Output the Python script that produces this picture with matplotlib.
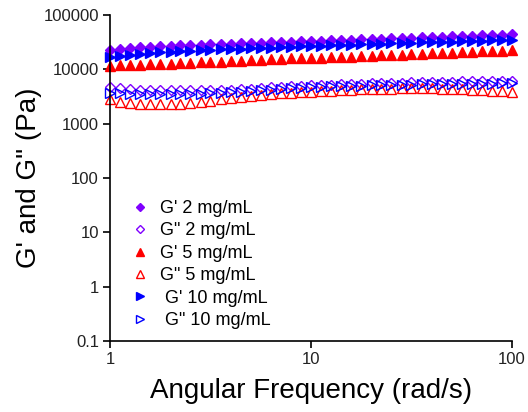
import matplotlib
matplotlib.use('Agg')
import matplotlib.pyplot as plt
from matplotlib.ticker import FixedLocator, FixedFormatter, NullLocator

plt.rcParams['font.family'] = ['Liberation Sans', 'DejaVu Sans']

# angular frequency (rad/s), 20 points per decade
freq = [1, 1.12, 1.26, 1.41, 1.58, 1.78, 2.0, 2.24, 2.51, 2.82,
        3.16, 3.55, 3.98, 4.47, 5.01, 5.62, 6.31, 7.08, 7.94, 8.91,
        10, 11.2, 12.6, 14.1, 15.8, 17.8, 20.0, 22.4, 25.1, 28.2,
        31.6, 35.5, 39.8, 44.7, 50.1, 56.2, 63.1, 70.8, 79.4, 89.1, 100]

g1_2 = [22600, 23700, 24700, 25500, 26200, 26800, 27200, 27600, 28000, 28500,
        28900, 29300, 29700, 30100, 30500, 30900, 31300, 31800, 32300, 32700,
        33200, 33700, 34100, 34600, 35100, 35600, 36100, 36600, 37200, 37700,
        38200, 38700, 39300, 39800, 40400, 41000, 41600, 42200, 42800, 43400, 44000]
g2_2 = [4660, 4450, 4300, 4220, 4170, 4150, 4150, 4150, 4160, 4170,
        4170, 4180, 4200, 4300, 4420, 4540, 4650, 4760, 4860, 4960,
        5050, 5140, 5210, 5280, 5350, 5420, 5490, 5570, 5660, 5720,
        5780, 5830, 5880, 5920, 5960, 6000, 6030, 6060, 6080, 6090, 6100]
g1_5 = [11600, 11800, 12000, 12200, 12400, 12600, 12800, 13000, 13200, 13400,
        13600, 13900, 14100, 14300, 14600, 14900, 15200, 15500, 15900, 16100,
        16300, 16500, 16800, 17000, 17200, 17500, 17700, 18000, 18300, 18600,
        18900, 19200, 19600, 19900, 20300, 20700, 21000, 21400, 21800, 22200, 22600]
g2_5 = [2800, 2550, 2420, 2350, 2310, 2300, 2300, 2310, 2360, 2480,
        2650, 2840, 2970, 3100, 3220, 3350, 3490, 3620, 3710, 3790,
        3870, 3970, 4070, 4160, 4230, 4290, 4340, 4390, 4430, 4460,
        4470, 4460, 4440, 4400, 4350, 4290, 4220, 4150, 4070, 3980, 3880]
g1_10 = [17100, 17900, 18700, 19400, 20000, 20500, 21000, 21500, 22000, 22400,
         22800, 23200, 23600, 24000, 24400, 24800, 25200, 25600, 26100, 26500,
         26900, 27300, 27700, 28100, 28500, 28900, 29300, 29700, 30100, 30500,
         30900, 31300, 31700, 32100, 32500, 32900, 33400, 33800, 34200, 34600, 35000]
g2_10 = [3710, 3600, 3550, 3520, 3510, 3510, 3510, 3520, 3540, 3570,
         3610, 3680, 3770, 3880, 4000, 4120, 4250, 4380, 4480, 4580,
         4680, 4770, 4840, 4900, 4960, 5010, 5060, 5100, 5140, 5180,
         5220, 5260, 5300, 5340, 5370, 5400, 5430, 5460, 5480, 5500, 5520]

labels = ["G' 2 mg/mL", 'G" 2 mg/mL', "G' 5 mg/mL", 'G" 5 mg/mL',
          " G' 10 mg/mL", ' G" 10 mg/mL']
purple = '#8000ff'
red = '#ff0000'
blue = '#0000ff'

fig = plt.figure(figsize=(5.28, 4.12), dpi=100)
ax = fig.add_axes([110 / 528, 1 - 341 / 412, 402 / 528, 326 / 412])

series = [
    (g1_2, 'D', purple, True, 5.5),
    (g2_2, 'D', purple, False, 5.5),
    (g1_5, '^', red, True, 6.5),
    (g2_5, '^', red, False, 6.5),
    (g1_10, '>', blue, True, 6.5),
    (g2_10, '>', blue, False, 6.5),
]
for (vals, mk, col, filled, ms), lab in zip(series, labels):
    ax.plot(freq, vals, linestyle='none', marker=mk, markersize=ms,
            markerfacecolor=col if filled else 'none', markeredgecolor=col,
            markeredgewidth=1.0, label=lab, clip_on=False)

ax.set_xscale('log')
ax.set_yscale('log')
ax.set_xlim(1, 100)
ax.set_ylim(0.1, 100000)

yt = [0.1, 1, 10, 100, 1000, 10000, 100000]
ax.yaxis.set_major_locator(FixedLocator(yt))
ax.yaxis.set_major_formatter(FixedFormatter(['0.1', '1', '10', '100', '1000', '10000', '100000']))
ax.yaxis.set_minor_locator(NullLocator())
ax.xaxis.set_major_locator(FixedLocator([1, 10, 100]))
ax.xaxis.set_major_formatter(FixedFormatter(['1', '10', '100']))
ax.xaxis.set_minor_locator(NullLocator())

for s in ['top', 'right']:
    ax.spines[s].set_visible(False)
for s in ['left', 'bottom']:
    ax.spines[s].set_linewidth(1.2)
ax.tick_params(direction='out', length=5, width=1.2, labelsize=12, pad=3,
               labelcolor='#222222')

ax.set_xlabel('Angular Frequency (rad/s)', fontsize=20, labelpad=8)
ax.set_ylabel('G\' and G" (Pa)', fontsize=20, labelpad=1)

ax.legend(loc='upper left', bbox_to_anchor=(0.03, 0.46), frameon=False,
          fontsize=13, markerscale=0.8, handlelength=1.0, handletextpad=0.6,
          labelspacing=0.3, borderpad=0)

fig.savefig('out.png', dpi=100)
